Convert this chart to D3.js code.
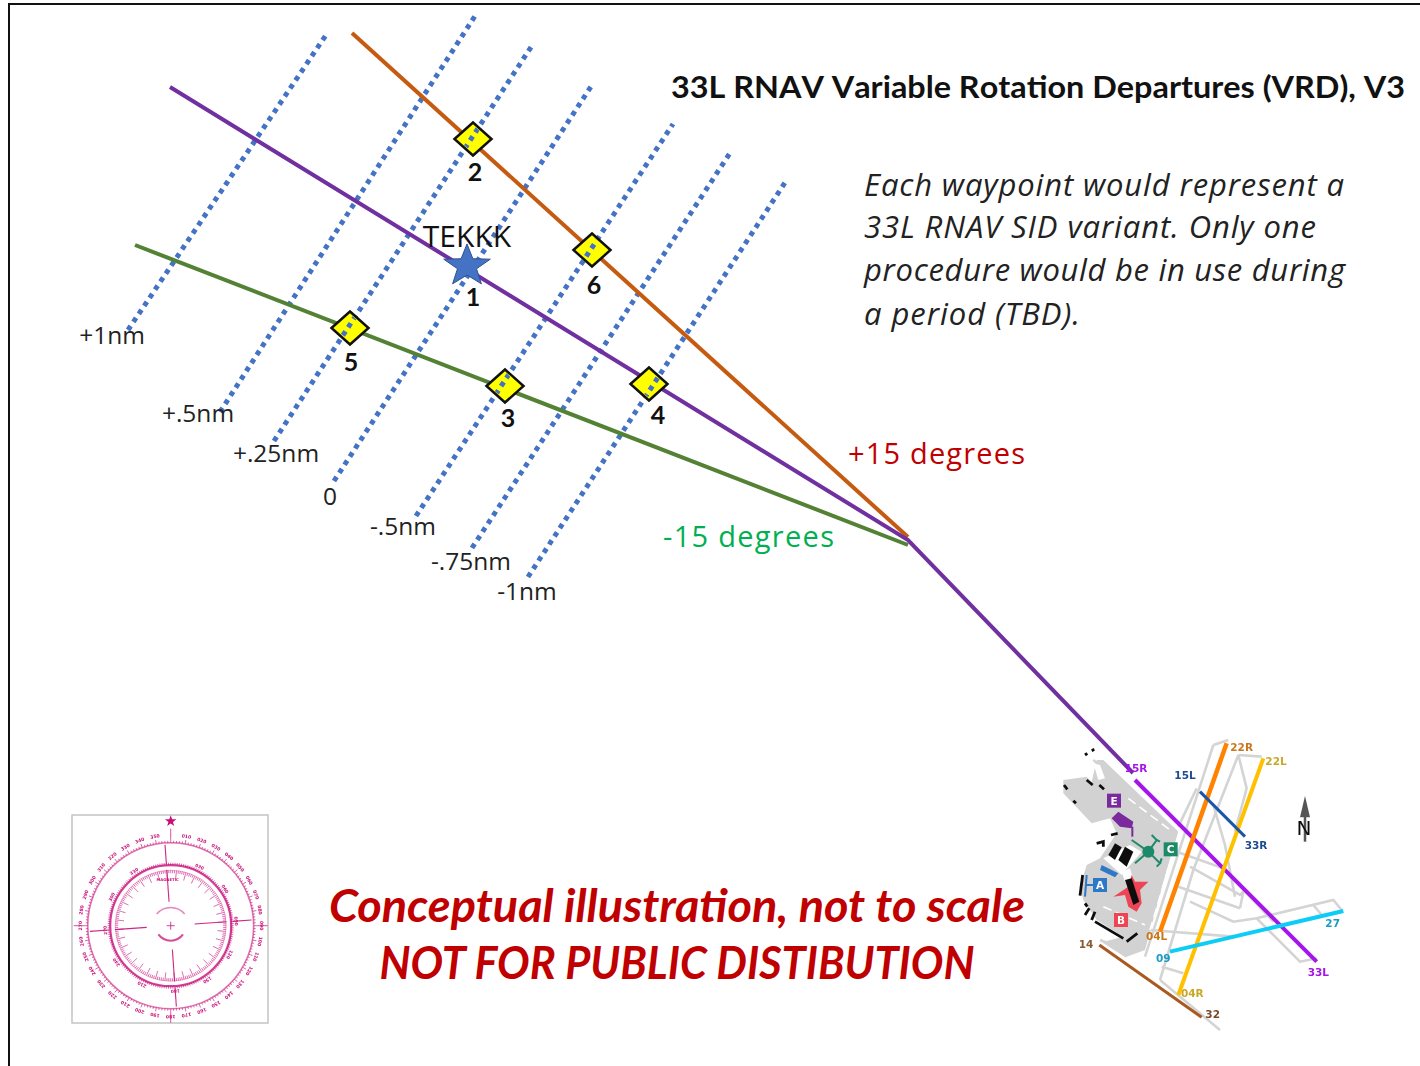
<!DOCTYPE html>
<html>
<head>
<meta charset="utf-8">
<script src="https://cdn.jsdelivr.net/npm/d3@7"></script>
<style>
  html, body { margin: 0; padding: 0; background: #fff; }
  svg { display: block; }
</style>
</head>
<body>
<div id="chart"></div>
<script>
// offset lines: label, start, end
const offsetNames = ["+1nm", "+.5nm", "+.25nm", "0", "-.5nm", "-.75nm", "-1nm"];
const offsetStart = [[128, 330], [220, 412], [274, 441], [334, 481], [416, 516], [472, 548], [528, 577]];
const offsetEnd = [[328, 32], [475, 16], [533, 44], [592, 85], [673, 124], [730, 153], [786, 181]];
const offsetLabelPos = [[112, 344], [198, 422], [276, 462], [330, 505], [403, 535], [471, 570], [527, 600]];

// routes
const routeOrange = [[352, 33], [908, 537]];
const routeGreen = [[135, 245], [908, 545]];
const routePurple = [[170, 87], [908, 540], [1133, 773]];

// waypoints
const waypointIds = ["2", "6", "5", "3", "4"];
const waypointPos = [[473, 139], [592, 250], [350, 328], [505, 386], [649, 384]];
const waypointLabelPos = [[475, 181], [594, 294], [351, 371], [508, 427], [658, 424]];
const tekkkPos = [467, 266];

// airport diagram, in 3x crop units
const rwyNames = ["33L", "22R", "22L", "15L", "09", "14"];
const rwyColors = ["#a414e8", "#ff8200", "#ffc000", "#1f55a8", "#10ccf5", "#a85a20"];
const rwyStart = [[255, 150], [530, 40], [640, 85], [450, 185], [360, 665], [148, 645]];
const rwyEnd = [[800, 695], [330, 605], [385, 795], [585, 320], [880, 543], [455, 862]];
const rwyWidth = [8, 9, 8, 6, 8, 6];
const rwyLabels = ["15R", "22R", "22L", "15L", "33R", "04L", "09", "04R", "14", "32", "27", "33L"];
const rwyLabelColors = ["#a414e8", "#c8781e", "#c8a828", "#1f4b8f", "#1f4b8f", "#c8781e", "#1b9cc4", "#c8a828", "#8a5a30", "#7a4a28", "#1b9cc4", "#a414e8"];
const rwyLabelPos = [[258, 126], [575, 63], [678, 104], [405, 147], [618, 358], [320, 631], [340, 695], [427, 801], [108, 655], [488, 865], [848, 591], [805, 739]];
const taxiways = [
  [[490, 45], [535, 30]], [[490, 45], [285, 680]], [[565, 75], [430, 420], [330, 750]], [[565, 75], [635, 80]],
  [[565, 75], [590, 175], [555, 305]], [[490, 225], [525, 345], [555, 500]],
  [[380, 365], [520, 415], [670, 575]], [[385, 470], [570, 535]], [[420, 410], [570, 495], [580, 485], [570, 535]],
  [[420, 515], [550, 575], [620, 565], [850, 510], [875, 540]], [[620, 565], [750, 695], [800, 685]], [[790, 525], [815, 555]],
  [[300, 600], [550, 620]], [[335, 710], [400, 730]], [[330, 750], [510, 900]],
  [[160, 635], [230, 680]], [[130, 90], [380, 305]], [[440, 175], [385, 290]], [[150, 630], [175, 640]]
];
const apron = [[40, 150], [110, 140], [125, 155], [140, 90], [160, 90], [385, 305], [350, 420], [285, 660], [230, 680], [160, 635], [220, 620], [140, 570], [100, 510], [90, 470], [110, 405], [150, 385], [200, 310], [180, 265], [125, 280], [40, 190]];
const whitePatches = [
  [[160, 385], [240, 345], [275, 365], [215, 435]], [[130, 100], [150, 105], [165, 145], [145, 150]], [[215, 425], [240, 415], [250, 450], [225, 455]]
];
const whiteDashes = [
  [[235, 205], [360, 300]], [[355, 415], [300, 600]], [[160, 530], [285, 585]]
];
const blackBars = [
  [[105, 75], [112, 70]], [[125, 62], [133, 58]], [[110, 150], [128, 165]], [[148, 165], [162, 178]], [[42, 165], [52, 178]], [[70, 212], [78, 220]],
  [[140, 340], [160, 335], [160, 350]], [[183, 315], [203, 310]],
  [[98, 435], [90, 497]], [[105, 520], [112, 530]], [[105, 555], [118, 535]], [[125, 570], [135, 545]], [[135, 575], [220, 625]], [[230, 635], [262, 610]]
];
const buildings = [
  [[175, 375], [195, 340], [215, 352], [195, 390]], [[205, 390], [225, 350], [250, 365], [230, 410]],
  [[225, 450], [245, 445], [268, 515], [250, 525]]
];
const termNames = ["E", "C", "A", "B"];
const termColors = ["#7a2a9c", "#1f8a68", "#2f78c8", "#ee4455"];
const termPos = [[192, 212], [362, 358], [150, 465], [213, 570]];
const concourses = [
  {c: "#7a2a9c", p: [[185, 265], [205, 245], [250, 275], [245, 295], [210, 290]]},
  {c: "#2f78c8", p: [[155, 405], [205, 430], [195, 442], [150, 420]]},
  {c: "#ee4455", p: [[190, 500], [235, 470], [245, 435], [255, 455], [295, 455], [270, 480], [275, 520], [260, 545], [235, 530], [225, 495]]}
];
const concourseArms = [
  {c: "#7a2a9c", p: [[247, 290], [247, 320]]},
  {c: "#1f8a68", p: [[245, 330], [295, 365], [320, 330], [305, 315]]}, {c: "#1f8a68", p: [[320, 330], [330, 335]]},
  {c: "#1f8a68", p: [[295, 365], [330, 400], [320, 410]]}, {c: "#1f8a68", p: [[330, 400], [335, 385]]},
  {c: "#1f8a68", p: [[295, 365], [255, 400]]},
  {c: "#2f78c8", p: [[110, 435], [105, 500]]}, {c: "#2f78c8", p: [[105, 465], [130, 465]]}
];
const greenHub = [295, 365];
const northTip = [765, 200];
const northBase = [765, 335];

// compass rose
const roseOffset = -4;
const outerTicks = d3.range(0, 360, 2);
const innerTicks = d3.range(0, 360, 2);
const outerLabels = d3.range(10, 360, 10);
const innerLabels = d3.range(30, 360, 30);
const compassSpokes = [0, 90, 180, 270];
const compassAxes = [0, 90, 180, 270];

// annotations
const title = "33L RNAV Variable Rotation Departures (VRD), V3";
const noteLines = ["Each waypoint would represent a", "33L RNAV SID variant. Only one", "procedure would be in use during", "a period (TBD)."];
const noteY = [196, 238, 281, 325];
const noteWidth = [480, 452, 481, 216];
const warningLines = ["Conceptual illustration, not to scale", "NOT FOR PUBLIC DISTIBUTION"];
const warningY = [922, 979];
const warningWidth = [696, 595];

const width = 1420, height = 1066;
const x = d3.scaleLinear().domain([0, 1420]).range([0, width]);
const y = d3.scaleLinear().domain([0, 1066]).range([0, height]);
const ax = d3.scaleLinear().domain([0, 930]).range([1050, 1360]);
const ay = d3.scaleLinear().domain([0, 930]).range([730, 1040]);
const cx = d3.scaleLinear().domain([0, 360]).range([0, 2 * Math.PI]);

const svg = d3.select("#chart").append("svg").attr("width", width).attr("height", height);
const defs = svg.append("defs");
defs.append("filter").attr("id", "soft").append("feGaussianBlur").attr("stdDeviation", 0.6);

// page frame
svg.append("path").attr("d", `M${x(9)},${y(1066)}V${y(4)}H${x(1420)}`).attr("fill", "none").attr("stroke", "#111").attr("stroke-width", 2);

const line = d3.line().x(d => x(d[0])).y(d => y(d[1]));

// dotted offsets
function dotted(g) {
  return g.selectAll("line").data(offsetNames).join("line")
    .attr("x1", (_, i) => x(offsetStart[i][0])).attr("y1", (_, i) => y(offsetStart[i][1]))
    .attr("x2", (_, i) => x(offsetEnd[i][0])).attr("y2", (_, i) => y(offsetEnd[i][1]))
    .attr("stroke", "#4472c4").attr("stroke-width", 5).attr("stroke-dasharray", "4.8 4.9");
}
dotted(svg.append("g"));

svg.append("g").selectAll("text").data(offsetNames).join("text")
  .attr("x", (_, i) => x(offsetLabelPos[i][0])).attr("y", (_, i) => y(offsetLabelPos[i][1]))
  .attr("text-anchor", "middle").attr("font-family", "Open Sans").attr("font-size", 24.5).attr("fill", "#222")
  .text(d => d);

// routes
[[routeOrange, "#c55a11"], [routeGreen, "#548235"], [routePurple, "#7030a0"]].forEach(r => {
  svg.append("path").attr("d", line(r[0])).attr("fill", "none").attr("stroke", r[1]).attr("stroke-width", 4);
});

// waypoints, with the dots showing through
svg.append("g").selectAll("path").data(waypointIds).join("path")
  .attr("transform", (_, i) => `translate(${x(waypointPos[i][0])},${y(waypointPos[i][1])})`)
  .attr("d", "M-18.5,0L0,-16.5L18.5,0L0,16.5Z")
  .attr("fill", "#ffff00").attr("stroke", "#111").attr("stroke-width", 2.5);

const clip = defs.append("clipPath").attr("id", "wpclip");
waypointPos.forEach(p => {
  clip.append("path").attr("d", `M${x(p[0]) - 16},${y(p[1])}L${x(p[0])},${y(p[1]) - 14}L${x(p[0]) + 16},${y(p[1])}L${x(p[0])},${y(p[1]) + 14}Z`);
});
dotted(svg.append("g").attr("clip-path", "url(#wpclip)"));

svg.append("g").selectAll("text").data(waypointIds).join("text")
  .attr("x", (_, i) => x(waypointLabelPos[i][0])).attr("y", (_, i) => y(waypointLabelPos[i][1]))
  .attr("text-anchor", "middle").attr("font-family", "Lato").attr("font-weight", 700).attr("font-size", 25).attr("fill", "#111")
  .text(d => d);

// TEKKK star
const star = d3.range(10).map(i => {
  const r = i % 2 ? 10 : 24.5, a = i * Math.PI / 5;
  return [r * Math.sin(a), -r * Math.cos(a) * 0.9];
});
svg.append("path")
  .attr("transform", `translate(${x(tekkkPos[0])},${y(tekkkPos[1])})`)
  .attr("d", d3.line()(star) + "Z")
  .attr("fill", "#4472c4").attr("stroke", "#2f528f").attr("stroke-width", 1);
svg.append("text").attr("x", x(467)).attr("y", y(247)).attr("text-anchor", "middle")
  .attr("font-family", "Open Sans").attr("font-size", 30).attr("fill", "#111").text("TEKKK");
svg.append("text").attr("x", x(473)).attr("y", y(306)).attr("text-anchor", "middle")
  .attr("font-family", "Lato").attr("font-weight", 700).attr("font-size", 25).attr("fill", "#111").text("1");

// text blocks
svg.append("text").attr("x", x(671)).attr("y", y(98)).attr("font-family", "Lato").attr("font-weight", 700)
  .attr("font-size", 31).attr("fill", "#111").style("font-kerning", "none")
  .attr("textLength", 734).attr("lengthAdjust", "spacingAndGlyphs").text(title);
svg.append("g").selectAll("text").data(noteLines).join("text")
  .attr("x", x(864)).attr("y", (_, i) => y(noteY[i]))
  .attr("font-family", "Open Sans").attr("font-style", "italic").attr("font-size", 31).attr("fill", "#222")
  .attr("textLength", (_, i) => noteWidth[i]).attr("lengthAdjust", "spacing")
  .text(d => d);
svg.append("text").attr("x", x(848)).attr("y", y(464)).attr("font-family", "Open Sans").attr("font-size", 29).attr("fill", "#c00000")
  .attr("textLength", 177).text("+15 degrees");
svg.append("text").attr("x", x(663)).attr("y", y(547)).attr("font-family", "Open Sans").attr("font-size", 29).attr("fill", "#00b050")
  .attr("textLength", 171).text("-15 degrees");
svg.append("g").selectAll("text").data(warningLines).join("text")
  .attr("x", x(677)).attr("y", (_, i) => y(warningY[i])).attr("text-anchor", "middle")
  .attr("font-family", "Lato").attr("font-style", "italic").attr("font-weight", 700).attr("font-size", 46).attr("fill", "#c00000")
  .attr("textLength", (_, i) => warningWidth[i]).attr("lengthAdjust", "spacingAndGlyphs")
  .text(d => d);

// airport
const apt = svg.append("g").attr("filter", "url(#soft)");
const aptLine = d3.line().x(d => ax(d[0])).y(d => ay(d[1]));
apt.selectAll(".twy").data(taxiways).join("path").attr("class", "twy")
  .attr("d", aptLine).attr("fill", "none").attr("stroke", "#d4d4d4").attr("stroke-width", 2.6);
apt.append("path").attr("d", aptLine(apron) + "Z").attr("fill", "#d2d2d2");
apt.selectAll(".wp").data(whitePatches).join("path").attr("class", "wp")
  .attr("d", d => aptLine(d) + "Z").attr("fill", "#fff");
apt.selectAll(".wd").data(whiteDashes).join("path").attr("class", "wd")
  .attr("d", aptLine).attr("fill", "none").attr("stroke", "#fff").attr("stroke-width", 1.6).attr("stroke-dasharray", "9 5");
apt.selectAll(".con").data(concourses).join("path").attr("class", "con")
  .attr("d", d => aptLine(d.p) + "Z").attr("fill", d => d.c);
apt.selectAll(".arm").data(concourseArms).join("path").attr("class", "arm")
  .attr("d", d => aptLine(d.p)).attr("fill", "none").attr("stroke", d => d.c).attr("stroke-width", 2);
apt.append("circle").attr("cx", ax(greenHub[0])).attr("cy", ay(greenHub[1])).attr("r", 6).attr("fill", "#1f8a68");
apt.selectAll(".bld").data(buildings).join("path").attr("class", "bld")
  .attr("d", d => aptLine(d) + "Z").attr("fill", "#111");
apt.selectAll(".bar").data(blackBars).join("path").attr("class", "bar")
  .attr("d", aptLine).attr("fill", "none").attr("stroke", "#111").attr("stroke-width", 2.8);
apt.selectAll(".rwy").data(rwyNames).join("line").attr("class", "rwy")
  .attr("x1", (_, i) => ax(rwyStart[i][0])).attr("y1", (_, i) => ay(rwyStart[i][1]))
  .attr("x2", (_, i) => ax(rwyEnd[i][0])).attr("y2", (_, i) => ay(rwyEnd[i][1]))
  .attr("stroke", (_, i) => rwyColors[i]).attr("stroke-width", (_, i) => rwyWidth[i] / 2);
apt.selectAll(".rl").data(rwyLabels).join("text").attr("class", "rl")
  .attr("x", (_, i) => ax(rwyLabelPos[i][0])).attr("y", (_, i) => ay(rwyLabelPos[i][1]))
  .attr("text-anchor", "middle").attr("font-family", "DejaVu Sans").attr("font-weight", 700).attr("font-size", 10.5)
  .attr("fill", (_, i) => rwyLabelColors[i]).text(d => d);
apt.selectAll(".tb").data(termNames).join("rect").attr("class", "tb")
  .attr("x", (_, i) => ax(termPos[i][0]) - 7).attr("y", (_, i) => ay(termPos[i][1]) - 7)
  .attr("width", 14).attr("height", 14).attr("fill", (_, i) => termColors[i]);
apt.selectAll(".tt").data(termNames).join("text").attr("class", "tt")
  .attr("x", (_, i) => ax(termPos[i][0])).attr("y", (_, i) => ay(termPos[i][1]) + 4)
  .attr("text-anchor", "middle").attr("font-family", "DejaVu Sans").attr("font-weight", 700).attr("font-size", 10.5).attr("fill", "#fff").text(d => d);
// north arrow
apt.append("line").attr("x1", ax(northTip[0])).attr("y1", ay(northTip[1]) + 10).attr("x2", ax(northBase[0])).attr("y2", ay(northBase[1]))
  .attr("stroke", "#555").attr("stroke-width", 2.5);
apt.append("path").attr("d", aptLine([[765, 198], [750, 262], [780, 262]]) + "Z").attr("fill", "#555");
apt.append("text").attr("x", ax(762)).attr("y", ay(316)).attr("text-anchor", "middle")
  .attr("font-family", "DejaVu Sans").attr("font-size", 20).attr("fill", "#111").text("N");

// compass rose
const cCx = 170.7, cCy = 925.7, pink = "#c8107a";
svg.append("rect").attr("x", x(72)).attr("y", y(815)).attr("width", 196).attr("height", 208)
  .attr("fill", "#fff").attr("stroke", "#c4c4c4").attr("stroke-width", 1.5);
const rose = svg.append("g").attr("transform", `translate(${cCx},${cCy})`).attr("filter", "url(#soft)");
const polar = (deg, r) => [r * Math.sin(cx(deg)), -r * Math.cos(cx(deg))];
function radial(cls, data, r1, r2, w, op) {
  rose.selectAll("." + cls).data(data).join("line").attr("class", cls)
    .attr("x1", d => polar(d.a, r1(d))[0]).attr("y1", d => polar(d.a, r1(d))[1])
    .attr("x2", d => polar(d.a, r2(d))[0]).attr("y2", d => polar(d.a, r2(d))[1])
    .attr("stroke", pink).attr("stroke-width", w).attr("opacity", op);
}
rose.append("circle").attr("r", 83).attr("fill", "none").attr("stroke", pink).attr("stroke-width", 1.6).attr("opacity", 0.6);
rose.append("circle").attr("r", 60.5).attr("fill", "none").attr("stroke", pink).attr("stroke-width", 2.2).attr("opacity", 0.8);
rose.append("circle").attr("r", 55.5).attr("fill", "none").attr("stroke", pink).attr("stroke-width", 0.7).attr("opacity", 0.45);
radial("t1", outerTicks.map(a => ({a})), () => 83, d => d.a % 10 ? 85 : 87, 0.8, 0.8);
radial("t2", innerTicks.map(a => ({a: a + roseOffset, m: a})), () => 55.5, d => d.m % 10 ? 52.5 : 47, 0.8, 0.75);
radial("t3", innerTicks.map(a => ({a: a + roseOffset})), () => 60.5, () => 63, 0.8, 0.8);
radial("s1", compassSpokes.map(a => ({a: a + roseOffset})), () => 24, () => 56, 1.1, 0.9);
radial("s2", compassSpokes.map(a => ({a: a + roseOffset})), () => 62, () => 81, 1.1, 0.9);
radial("ax", compassAxes.map(a => ({a})), () => 87, () => 97, 0.9, 0.8);
rose.selectAll(".xh").data(compassAxes).join("line").attr("class", "xh")
  .attr("x1", 0).attr("y1", 0).attr("x2", d => polar(d, 4)[0]).attr("y2", d => polar(d, 4)[1])
  .attr("stroke", pink).attr("stroke-width", 0.8);
rose.selectAll(".cl").data(outerLabels).join("text").attr("class", "cl")
  .attr("transform", d => { const p = polar(d, 91); return `translate(${p[0]},${p[1]}) rotate(${d})`; })
  .attr("text-anchor", "middle").attr("dy", 2).attr("font-family", "DejaVu Sans").attr("font-weight", 700).attr("font-size", 4.6).attr("fill", pink)
  .text(d => String(d).padStart(3, "0"));
rose.selectAll(".il").data(innerLabels).join("text").attr("class", "il")
  .attr("transform", d => { const p = polar(d + roseOffset, 66); return `translate(${p[0]},${p[1]}) rotate(${d + roseOffset})`; })
  .attr("text-anchor", "middle").attr("dy", 2).attr("font-family", "DejaVu Sans").attr("font-weight", 700).attr("font-size", 4.4).attr("fill", pink)
  .text(d => String(d).padStart(3, "0"));
rose.append("text").attr("y", -45).attr("x", -3).attr("text-anchor", "middle").attr("font-family", "DejaVu Sans").attr("font-size", 3.8).attr("font-weight", 700).attr("fill", pink).text("MAGNETIC");
const arcGen = d3.arc();
rose.append("path").attr("d", arcGen({innerRadius: 17.5, outerRadius: 19, startAngle: cx(-50), endAngle: cx(50)})).attr("fill", pink).attr("opacity", 0.5);
rose.append("path").attr("d", arcGen({innerRadius: 14, outerRadius: 16, startAngle: cx(125), endAngle: cx(235)})).attr("fill", pink).attr("opacity", 0.75);
const roseStar = d3.range(10).map(i => {
  const r = i % 2 ? 2.4 : 6, a = i * Math.PI / 5;
  return [r * Math.sin(a), -104.5 - r * Math.cos(a)];
});
rose.append("path").attr("d", d3.line()(roseStar) + "Z").attr("fill", pink);
</script>
</body>
</html>
